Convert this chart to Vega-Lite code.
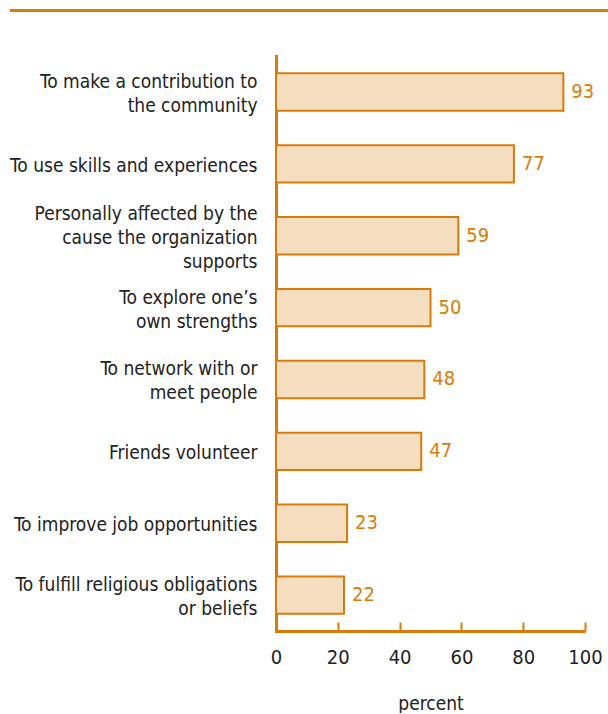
{
  "$schema": "https://vega.github.io/schema/vega-lite/v6.json",
  "padding": {"left": 8, "top": 9, "right": 0, "bottom": 0},
  "background": "white",
  "spacing": 44,
  "config": {
    "font": "Liberation Sans Narrow, DejaVu Sans Condensed, sans-serif",
    "view": {"stroke": null}
  },
  "vconcat": [
    {
      "width": 309,
      "height": 1,
      "data": {"values": [{"start": -86.1, "end": 107.4}]},
      "mark": {"type": "rule", "color": "#D97B0A", "strokeWidth": 3, "clip": false},
      "encoding": {
        "x": {"field": "start", "type": "quantitative", "scale": {"domain": [0, 100]}, "axis": null},
        "x2": {"field": "end"}
      }
    },
    {
      "width": 309,
      "height": 575,
      "data": {
        "values": [
          {"reason": "To make a contribution to|the community", "percent": 93},
          {"reason": "To use skills and experiences", "percent": 77},
          {"reason": "Personally affected by the|cause the organization|supports", "percent": 59},
          {"reason": "To explore one’s|own strengths", "percent": 50},
          {"reason": "To network with or|meet people", "percent": 48},
          {"reason": "Friends volunteer", "percent": 47},
          {"reason": "To improve job opportunities", "percent": 23},
          {"reason": "To fulfill religious obligations|or beliefs", "percent": 22}
        ]
      },
      "encoding": {
        "y": {
          "field": "reason",
          "type": "nominal",
          "sort": null,
          "scale": {"paddingInner": 0.48, "paddingOuter": 0.24},
          "axis": {
            "title": null,
            "labelExpr": "split(datum.label, '|')",
            "labelFontSize": 19,
            "labelLineHeight": 24,
            "labelColor": "#222222",
            "labelPadding": 19,
            "labelLimit": 400,
            "ticks": false,
            "domainColor": "#D97B0A",
            "domainWidth": 3,
            "domainCap": "square",
            "labelOffset": {"expr": "2 - (length(split(datum.value, '|')) - 1) * 12"}
          }
        },
        "x": {
          "field": "percent",
          "type": "quantitative",
          "scale": {"domain": [0, 100]},
          "axis": {
            "title": "percent",
            "values": [0, 20, 40, 60, 80, 100],
            "grid": false,
            "domainColor": "#D97B0A",
            "domainWidth": 3,
            "tickColor": "#D97B0A",
            "tickWidth": 2,
            "tickSize": -9,
            "labelFontSize": 20,
            "labelColor": "#222222",
            "labelPadding": 25,
            "labelFlush": false,
            "titleFontSize": 19,
            "titleFontWeight": "normal",
            "titleColor": "#222222",
            "titlePadding": 27
          }
        }
      },
      "layer": [
        {
          "mark": {"type": "bar", "fill": "#F5DEC0", "stroke": "#D97B0A", "strokeWidth": 2}
        },
        {
          "mark": {"type": "text", "align": "left", "baseline": "middle", "dx": 8, "fontSize": 20, "color": "#D97B0A"},
          "encoding": {"text": {"field": "percent", "type": "quantitative"}}
        }
      ]
    }
  ]
}
